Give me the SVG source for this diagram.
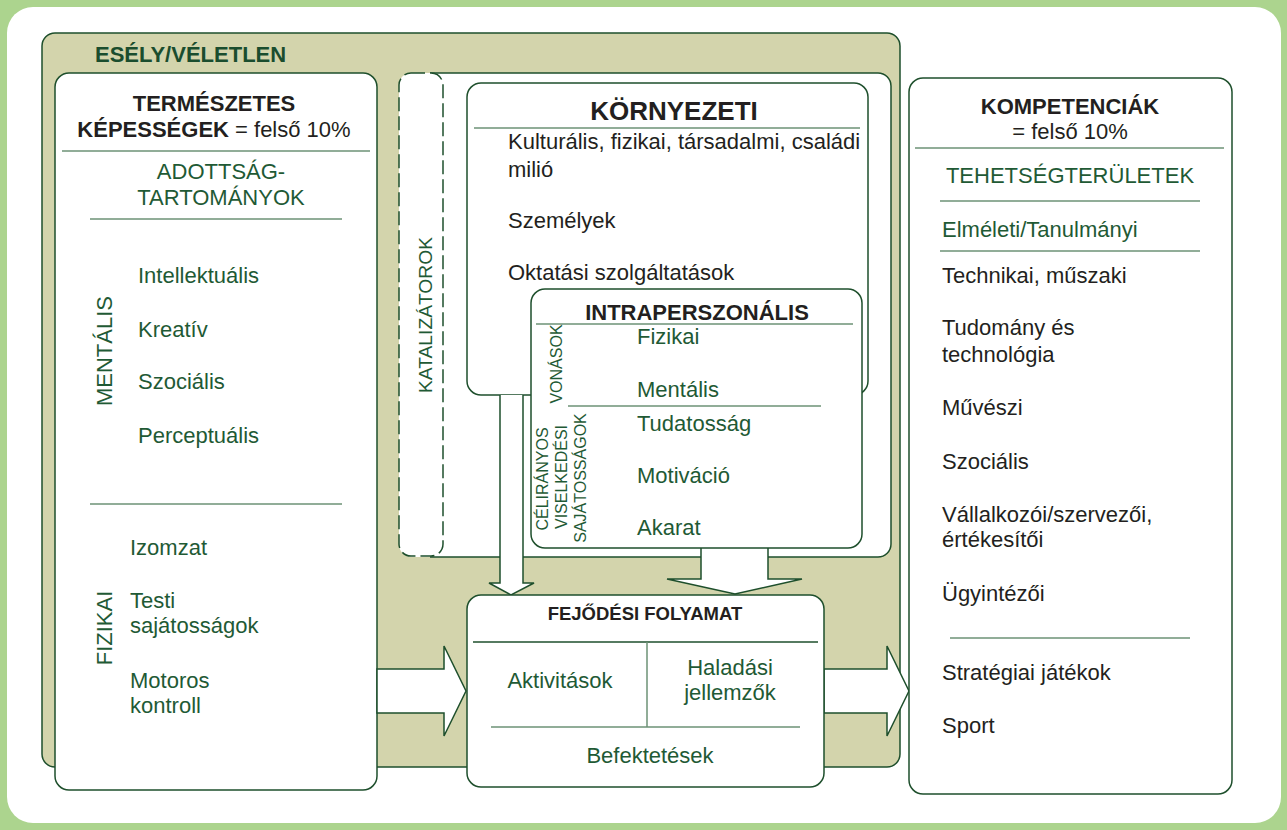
<svg xmlns="http://www.w3.org/2000/svg" width="1287" height="830" viewBox="0 0 1287 830">
<style>
text { font-family: "Liberation Sans", Arial, sans-serif; }
.g { fill: #1f5a35; font-size: 22px; }
.k { fill: #231f20; font-size: 22px; }
.b { font-weight: bold; }
.v { fill: #1f5a35; font-size: 16px; }
.box { fill: #ffffff; stroke: #1e4f2c; stroke-width: 1.5; }
.sep { stroke: #6d9276; stroke-width: 1.5; fill: none; }
.arrow { fill: #ffffff; stroke: #1e4f2c; stroke-width: 1.5; stroke-linejoin: miter; }
.mid { text-anchor: middle; }
</style>
<rect x="0" y="0" width="1287" height="830" fill="#acd48e"/>
<rect x="7" y="7" width="1274" height="816" rx="26" fill="#ffffff"/>

<g id="chance">
  <rect x="42" y="33" width="858" height="734" rx="13" fill="#d3d4ac" stroke="#1e4f2c" stroke-width="1.5"/>
  <text x="95" y="62" class="b" style="fill:#1a4d2e;font-size:22px">ESÉLY/VÉLETLEN</text>
</g>

<g id="natural-abilities">
  <rect x="55" y="73" width="322" height="717" rx="14" class="box"/>
  <text x="214" y="111" class="k b mid">TERMÉSZETES</text>
  <text x="214" y="137" class="k mid"><tspan class="b">KÉPESSÉGEK</tspan> = felső 10%</text>
  <line x1="62" y1="151" x2="370" y2="151" class="sep"/>
  <text x="221" y="179" class="g mid">ADOTTSÁG-</text>
  <text x="221" y="205" class="g mid">TARTOMÁNYOK</text>
  <line x1="90" y1="219" x2="342" y2="219" class="sep"/>
  <text transform="translate(112,351) rotate(-90)" class="g mid">MENTÁLIS</text>
  <text x="138" y="283" class="g">Intellektuális</text>
  <text x="138" y="337" class="g">Kreatív</text>
  <text x="138" y="389" class="g">Szociális</text>
  <text x="138" y="443" class="g">Perceptuális</text>
  <line x1="90" y1="504" x2="342" y2="504" class="sep"/>
  <text transform="translate(112,628) rotate(-90)" class="g mid">FIZIKAI</text>
  <text x="130" y="555" class="g">Izomzat</text>
  <text x="130" y="608" class="g">Testi</text>
  <text x="130" y="633" class="g">sajátosságok</text>
  <text x="130" y="688" class="g">Motoros</text>
  <text x="130" y="713" class="g">kontroll</text>
</g>

<g id="catalysts">
  <rect x="399" y="73" width="492" height="484" rx="13" fill="#ffffff"/>
  <path d="M430,73 H878 A13,13 0 0 1 891,86 V544 A13,13 0 0 1 878,557 H430" class="sep" style="stroke:#1e4f2c"/>
  <rect x="399" y="73" width="44" height="483" rx="12" fill="#ffffff" stroke="#1e4f2c" stroke-width="1.5" stroke-dasharray="14 5"/>
  <text transform="translate(432,315) rotate(-90)" class="g mid" style="font-size:19px" textLength="156" lengthAdjust="spacingAndGlyphs">KATALIZÁTOROK</text>
</g>

<g id="environmental">
  <rect x="467" y="83" width="401" height="312" rx="14" class="box"/>
  <text x="674" y="120" class="k b mid" style="font-size:26px">KÖRNYEZETI</text>
  <line x1="474" y1="128" x2="860" y2="128" class="sep"/>
  <text x="508" y="149" class="k">Kulturális, fizikai, társadalmi, családi</text>
  <text x="508" y="177" class="k">milió</text>
  <text x="508" y="228" class="k">Személyek</text>
  <text x="508" y="280" class="k">Oktatási szolgáltatások</text>
</g>

<g id="connectors">
  <path d="M500,395 V583 H489 L511,595 L534,583 H523 V395" class="arrow"/>
  <path d="M701,548 V579 H667 L735,594 L802,579 H768 V548" class="arrow"/>
  <path d="M377,669 H444 V646 L466,691 L444,736 V713 H377 Z" class="arrow"/>
  <path d="M824,669 H887 V646 L909,691 L887,736 V713 H824 Z" class="arrow"/>
</g>

<g id="intrapersonal">
  <rect x="531" y="289" width="331" height="259" rx="14" class="box"/>
  <text x="697" y="320" class="k b mid">INTRAPERSZONÁLIS</text>
  <line x1="536" y1="324" x2="853" y2="324" class="sep"/>
  <text transform="translate(562,364) rotate(-90)" class="v mid">VONÁSOK</text>
  <text x="637" y="344" class="g">Fizikai</text>
  <text x="637" y="397" class="g">Mentális</text>
  <line x1="568" y1="406" x2="821" y2="406" class="sep"/>
  <text transform="translate(548,479) rotate(-90)" class="v mid">CÉLIRÁNYOS</text>
  <text transform="translate(567,477) rotate(-90)" class="v mid">VISELKEDÉSI</text>
  <text transform="translate(586,478) rotate(-90)" class="v mid">SAJÁTOSSÁGOK</text>
  <text x="637" y="431" class="g">Tudatosság</text>
  <text x="637" y="483" class="g">Motiváció</text>
  <text x="637" y="535" class="g">Akarat</text>
</g>

<g id="developmental-process">
  <rect x="467" y="595" width="357" height="192" rx="14" class="box"/>
  <text x="645" y="620" class="k b mid" style="font-size:18.5px">FEJŐDÉSI FOLYAMAT</text>
  <line x1="473" y1="642" x2="818" y2="642" class="sep" style="stroke:#1e4f2c"/>
  <line x1="647" y1="642" x2="647" y2="727" class="sep"/>
  <line x1="491" y1="727" x2="800" y2="727" class="sep"/>
  <text x="560" y="688" class="g mid">Aktivitások</text>
  <text x="730" y="675" class="g mid">Haladási</text>
  <text x="730" y="700" class="g mid">jellemzők</text>
  <text x="650" y="763" class="g mid">Befektetések</text>
</g>

<g id="competencies">
  <rect x="909" y="78" width="323" height="716" rx="14" class="box"/>
  <text x="1070" y="114" class="k b mid">KOMPETENCIÁK</text>
  <text x="1070" y="139" class="k mid">= felső 10%</text>
  <line x1="915" y1="148" x2="1224" y2="148" class="sep"/>
  <text x="1070" y="183" class="g mid">TEHETSÉGTERÜLETEK</text>
  <line x1="940" y1="201" x2="1200" y2="201" class="sep"/>
  <text x="942" y="237" class="g">Elméleti/Tanulmányi</text>
  <line x1="940" y1="251" x2="1200" y2="251" class="sep"/>
  <text x="942" y="283" class="k">Technikai, műszaki</text>
  <text x="942" y="335" class="k">Tudomány és</text>
  <text x="942" y="362" class="k">technológia</text>
  <text x="942" y="415" class="k">Művészi</text>
  <text x="942" y="469" class="k">Szociális</text>
  <text x="942" y="522" class="k">Vállalkozói/szervezői,</text>
  <text x="942" y="547" class="k">értékesítői</text>
  <text x="942" y="601" class="k">Ügyintézői</text>
  <line x1="950" y1="638" x2="1190" y2="638" class="sep"/>
  <text x="942" y="680" class="k">Stratégiai játékok</text>
  <text x="942" y="733" class="k">Sport</text>
</g>
</svg>
